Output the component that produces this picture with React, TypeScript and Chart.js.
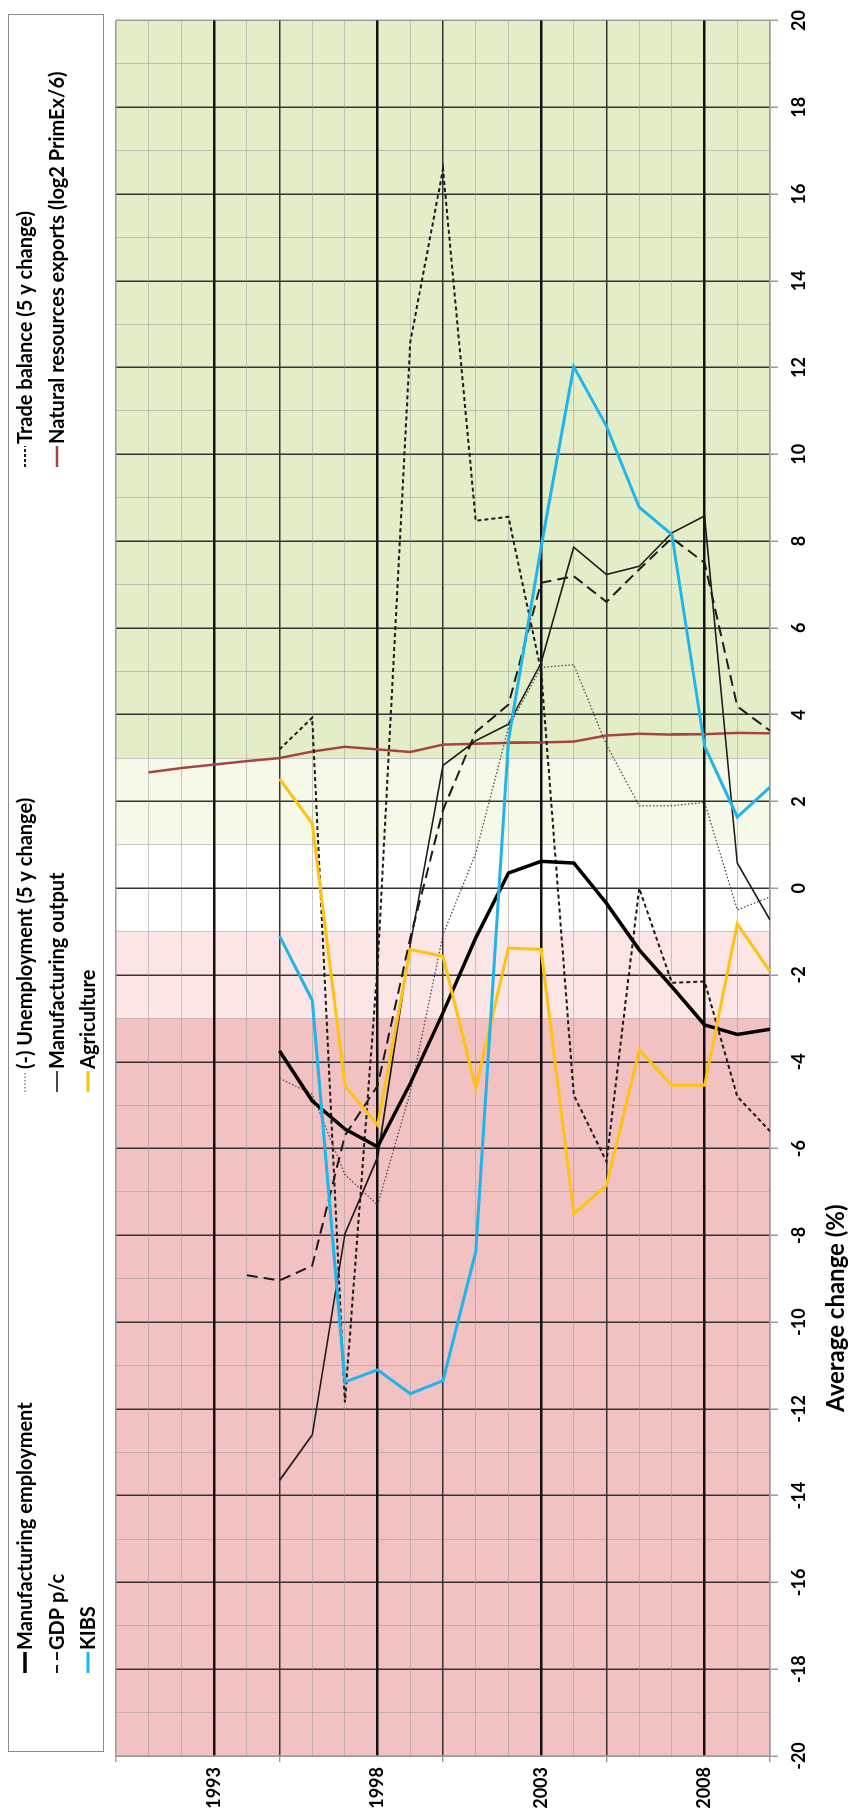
import React, { useEffect, useRef } from 'react';
import { Chart, registerables } from 'chart.js';

Chart.register(...registerables);

// ---------------- data ----------------
const years = [1991, 1992, 1993, 1994, 1995, 1996, 1997, 1998, 1999, 2000, 2001, 2002, 2003, 2004, 2005, 2006, 2007, 2008, 2009, 2010];
const labelYears = [1993, 1998, 2003, 2008];

const mfgEmployment = [null, null, null, null, -3.75, -4.9, -5.55, -5.96, -4.5, -2.87, -1.15, 0.35, 0.62, 0.58, -0.35, -1.42, -2.27, -3.15, -3.37, -3.25];
const gdpPc = [null, null, null, -8.92, -9.04, -8.7, -5.7, -4.55, -1.15, 1.8, 3.6, 4.23, 7.04, 7.19, 6.6, 7.35, 8.07, 7.5, 4.19, 3.63];
const kibs = [null, null, null, null, -1.1, -2.58, -11.38, -11.1, -11.65, -11.35, -8.38, 3.42, 7.85, 12.02, 10.65, 8.78, 8.15, 3.27, 1.64, 2.33];
const unemployment = [null, null, null, null, -4.38, -4.75, -6.6, -7.3, -4.7, -1.07, 0.8, 3.7, 5.09, 5.15, 3.3, 1.9, 1.9, 1.98, -0.5, -0.2];
const mfgOutput = [null, null, null, null, -13.65, -12.6, -7.96, -6.2, -1.3, 2.83, 3.4, 3.78, 5.19, 7.86, 7.23, 7.42, 8.19, 8.58, 0.58, -0.73];
const agriculture = [null, null, null, null, 2.52, 1.49, -4.55, -5.46, -1.41, -1.57, -4.6, -1.38, -1.41, -7.5, -6.85, -3.73, -4.54, -4.54, -0.82, -1.92];
const tradeBalance = [null, null, null, null, 3.2, 3.93, -11.85, -1.8, 12.59, 16.57, 8.47, 8.56, 5.0, -4.77, -6.3, 0.0, -2.18, -2.15, -4.8, -5.6];
const naturalResources = [2.67, 2.77, 2.85, 2.93, 3.0, 3.15, 3.26, 3.2, 3.14, 3.31, 3.33, 3.35, 3.36, 3.38, 3.52, 3.56, 3.54, 3.55, 3.58, 3.57];

const seriesLabels = [
  'Manufacturing employment',
  'GDP p/c',
  'KIBS',
  '(-) Unemployment (5 y change)',
  'Manufacturing output',
  'Agriculture',
  'Trade balance (5 y change)',
  'Natural resources exports (log2 PrimEx/6)',
];

const axisTitle = 'Average change (%)';

// background bands (value ranges)
const bandFrom = [3, 1, -1, -3, -20];
const bandTo = [20, 3, 1, -1, -3];
const bandColors = ['#E3EEC9', '#F6F9E8', '#FFFFFF', '#FCE5E5', '#F2C2C2'];

// ---------------- layout (unrotated frame) ----------------
const W = 1814;
const H = 861;
const FONT = 'Lato, "Open Sans", "DejaVu Sans", sans-serif';
const LEGEND_COLS = [141, 722, 1347];
const LEGEND_ROWS = [25, 57, 88];

const toPoints = (vals: (number | null)[]) =>
  years
    .map((y, i) => (vals[i] === null || vals[i] === undefined ? null : { x: vals[i] as number, y }))
    .filter((p) => p !== null);

const bandPlugin = {
  id: 'bands',
  beforeDraw(chart: any) {
    const { ctx, chartArea } = chart;
    const xs = chart.scales.x;
    ctx.save();
    for (let i = 0; i < bandFrom.length; i++) {
      const a = xs.getPixelForValue(bandFrom[i]);
      const b = xs.getPixelForValue(bandTo[i]);
      ctx.fillStyle = bandColors[i];
      ctx.fillRect(Math.min(a, b), chartArea.top, Math.abs(b - a), chartArea.bottom - chartArea.top);
    }
    ctx.restore();
  },
};

const legendPlugin = {
  id: 'customLegend',
  afterDraw(chart: any) {
    const ctx = chart.ctx;
    ctx.save();
    ctx.strokeStyle = '#8a8a8a';
    ctx.lineWidth = 1;
    ctx.strokeRect(62.5, 8.5, 1737, 95);
    chart.data.datasets.forEach((ds: any, i: number) => {
      const col = Math.floor(i / 3);
      const row = i % 3;
      const x0 = LEGEND_COLS[col];
      const y = LEGEND_ROWS[row];
      ctx.beginPath();
      ctx.setLineDash(ds.legendDash || []);
      ctx.lineWidth = ds.borderWidth;
      ctx.strokeStyle = ds.borderColor;
      ctx.moveTo(x0, y);
      ctx.lineTo(x0 + 21, y);
      ctx.stroke();
      ctx.setLineDash([]);
      ctx.fillStyle = '#000';
      ctx.font = `bold 20px ${FONT}`;
      ctx.textBaseline = 'middle';
      ctx.textAlign = 'left';
      ctx.fillText(ds.label, x0 + 23, y + 1);
    });

    // axis title (placed off-centre as in the reference)
    const xs = chart.scales.x;
    const cx = xs.left + (xs.right - xs.left) * 0.258;
    ctx.font = `bold 24px ${FONT}`;
    ctx.textAlign = 'center';
    ctx.textBaseline = 'middle';
    ctx.fillStyle = '#000';
    ctx.fillText(axisTitle, cx, 836);
    ctx.restore();
  },
};

export default function App() {
  const canvasRef = useRef<HTMLCanvasElement | null>(null);

  useEffect(() => {
    if (!canvasRef.current) return;
    const styles = [
      { color: '#000000', width: 3.5, dash: [] as number[], legendDash: [] as number[], order: 2 },
      { color: '#1a1a1a', width: 2, dash: [11, 6], legendDash: [8, 5], order: 5 },
      { color: '#1FB4EA', width: 3, dash: [], legendDash: [], order: 0 },
      { color: '#404040', width: 1.2, dash: [1.5, 2], legendDash: [1.5, 2], order: 6 },
      { color: '#1a1a1a', width: 1.6, dash: [], legendDash: [], order: 4 },
      { color: '#FFC20E', width: 3, dash: [], legendDash: [], order: 1 },
      { color: '#1a1a1a', width: 2, dash: [4, 3], legendDash: [3, 2], order: 3 },
      { color: '#A84440', width: 2.5, dash: [], legendDash: [], order: 7 },
    ];
    const seriesValues = [mfgEmployment, gdpPc, kibs, unemployment, mfgOutput, agriculture, tradeBalance, naturalResources];

    const chart = new Chart(canvasRef.current, {
      type: 'line',
      data: {
        datasets: seriesValues.map((vals, i) => ({
          label: seriesLabels[i],
          data: toPoints(vals) as any,
          borderColor: styles[i].color,
          backgroundColor: styles[i].color,
          borderWidth: styles[i].width,
          borderDash: styles[i].dash,
          legendDash: styles[i].legendDash,
          order: styles[i].order,
          pointRadius: 0,
          pointHoverRadius: 0,
          tension: 0,
          fill: false,
        })),
      },
      options: {
        indexAxis: 'y',
        animation: false,
        responsive: false,
        devicePixelRatio: 1,
        events: [],
        layout: { padding: { top: 116, right: 19, left: 0, bottom: 0 } },
        plugins: {
          legend: { display: false },
          tooltip: { enabled: false },
        },
        scales: {
          x: {
            type: 'linear',
            position: 'bottom',
            min: -20,
            max: 20,
            afterFit: (s: any) => {
              s.height = 91;
            },
            ticks: {
              stepSize: 1,
              autoSkip: false,
              maxRotation: 0,
              minRotation: 0,
              padding: 10,
              color: '#000',
              font: { family: FONT, size: 18, weight: 'bold' },
              callback: (v: any) => (Math.round(v) % 2 === 0 ? String(v) : ''),
            },
            grid: {
              color: (c: any) => {
                const v = c.tick ? c.tick.value : 0;
                if (Math.abs(v) === 20) return '#9a9a9a';
                return Math.round(v) % 2 === 0 ? '#333333' : 'rgba(150,150,150,0.5)';
              },
              lineWidth: (c: any) => {
                const v = c.tick ? c.tick.value : 0;
                return Math.round(v) % 2 === 0 ? 1.5 : 1;
              },
              tickColor: (c: any) => {
                const v = c.tick ? c.tick.value : 0;
                return Math.round(v) % 2 === 0 ? '#9a9a9a' : 'rgba(0,0,0,0)';
              },
              tickLength: 8,
            },
            border: { color: '#9a9a9a', width: 1.5 },
            title: { display: false },
          },
          y: {
            type: 'linear',
            position: 'left',
            reverse: true,
            min: 1990,
            max: 2010,
            afterFit: (s: any) => {
              s.width = 58;
            },
            ticks: {
              stepSize: 1,
              autoSkip: false,
              padding: 5,
              color: '#000',
              font: { family: FONT, size: 18, weight: 'bold' },
              callback: (v: any) => (labelYears.includes(Math.round(v)) ? String(Math.round(v)) : ''),
            },
            grid: {
              color: (c: any) => {
                const v = c.tick ? Math.round(c.tick.value) : 0;
                if (v === 1990 || v === 2010) return '#9a9a9a';
                if (labelYears.includes(v)) return '#111111';
                if (v % 5 === 0) return '#333333';
                return 'rgba(150,150,150,0.5)';
              },
              lineWidth: (c: any) => {
                const v = c.tick ? Math.round(c.tick.value) : 0;
                if (labelYears.includes(v)) return 2.5;
                if (v % 5 === 0) return 1.4;
                return 1;
              },
              tickColor: (c: any) => {
                const v = c.tick ? Math.round(c.tick.value) : 0;
                return v % 5 === 0 ? '#9a9a9a' : 'rgba(0,0,0,0)';
              },
              tickLength: 6,
            },
            border: { color: '#9a9a9a', width: 1.5 },
          },
        },
      },
      plugins: [bandPlugin, legendPlugin],
    } as any);

    return () => {
      chart.destroy();
    };
  }, []);

  return (
    <div style={{ position: 'absolute', left: 0, top: 0, width: H, height: W, overflow: 'hidden', background: '#fff' }}>
      <canvas
        ref={canvasRef}
        width={W}
        height={H}
        style={{
          position: 'absolute',
          left: 0,
          top: 0,
          width: W,
          height: H,
          transformOrigin: '0 0',
          transform: `translate(0px, ${W}px) rotate(-90deg)`,
        }}
      />
    </div>
  );
}
